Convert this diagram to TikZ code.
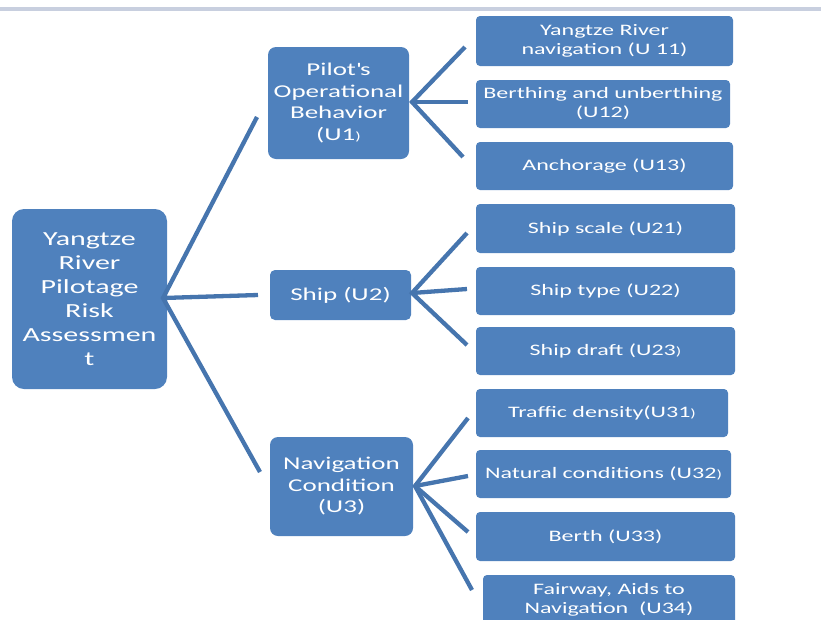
\documentclass[tikz,border=0pt]{standalone}
\usepackage{fontspec}
\setmainfont{Carlito}[FakeStretch=1.5]
\definecolor{boxblue}{HTML}{4F81BD}
\definecolor{linkblue}{HTML}{4675AE}
\definecolor{topband}{HTML}{C8CFDF}
\newcommand{\smp}{{\fontsize{12}{12}\selectfont )}}
\begin{document}
\begin{tikzpicture}[x=1pt,y=-1pt,
  box/.style={fill=boxblue, text=white, align=center, inner sep=0pt},
  rootbox/.style={box, rounded corners=12pt, font=\fontsize{20}{24}\selectfont},
  midbox/.style={box, rounded corners=8pt, font=\fontsize{18}{21.5}\selectfont},
  leafbox/.style={box, rounded corners=4pt, font=\fontsize{16}{19}\selectfont},
  link/.style={draw=linkblue, line width=4.3pt}]
\path[use as bounding box] (0,0) rectangle (821,619);
\clip (0,0) rectangle (821,619);
\fill[topband] (0,7) rectangle (821,11);

% root and level 1
\node[rootbox, minimum width=155pt, minimum height=180pt] (root) at (89.5,299)
  {Yangtze\\River\\Pilotage\\Risk\\Assessmen\\t};
\node[midbox, minimum width=141pt, minimum height=112pt] (u1) at (338.5,103)
  {Pilot\textquotesingle s\\Operational\\Behavior\\(U1\smp};
\node[midbox, rounded corners=5pt, minimum width=141pt, minimum height=50pt] (u2) at (340.5,295)
  {Ship (U2)};
\node[midbox, minimum width=143pt, minimum height=99pt] (u3) at (341.5,486.5)
  {Navigation\\Condition\\(U3)};

% leaves
\node[leafbox, minimum width=257pt, minimum height=50pt] (u11) at (604.5,41) {Yangtze River\\navigation (U 11)};
\node[leafbox, minimum width=254pt, minimum height=48pt] (u12) at (603,104) {Berthing and unberthing\\(U12)};
\node[leafbox, minimum width=257pt, minimum height=48pt] (u13) at (604.5,166) {Anchorage (U13)};
\node[leafbox, minimum width=259pt, minimum height=49pt] (u21) at (605.5,228.5) {Ship scale (U21)};
\node[leafbox, minimum width=259pt, minimum height=48pt] (u22) at (605.5,291) {Ship type (U22)};
\node[leafbox, minimum width=259pt, minimum height=48pt] (u23) at (605.5,351) {Ship draft (U23\smp};
\node[leafbox, minimum width=252pt, minimum height=48pt] (u31) at (602,413) {Traffic density(U31\smp};
\node[leafbox, minimum width=255pt, minimum height=48pt] (u32) at (603.5,474) {Natural conditions (U32\smp};
\node[leafbox, minimum width=259pt, minimum height=49pt] (u33) at (605.5,536.5) {Berth (U33)};
\node[leafbox, minimum width=252pt, minimum height=50pt] (u34) at (609,600) {Fairway, Aids to\\Navigation~ (U34)};

% hubs and free ends
\coordinate (h0) at (163,298);
\coordinate (e1) at (257,117);
\coordinate (e2) at (258,295);
\coordinate (e3) at (260,472);
\coordinate (h1) at (412,102);
\coordinate (e11) at (465,47);
\coordinate (e12) at (468,102);
\coordinate (e13) at (463,157);
\coordinate (h2) at (412,293);
\coordinate (e21) at (467,233);
\coordinate (e22) at (467,289);
\coordinate (e23) at (467,345);
\coordinate (h3) at (415,486);
\coordinate (e31) at (468,418);
\coordinate (e32) at (468,476);
\coordinate (e33) at (468,532);
\coordinate (e34) at (472,590);

\draw[link] (e1) -- (h0) -- (e3);
\draw[link] (h0) -- (e2);
\draw[link] (e11) -- (h1) -- (e13);
\draw[link] (h1) -- (e12);
\draw[link] (e21) -- (h2) -- (e23);
\draw[link] (h2) -- (e22);
\draw[link] (e31) -- (h3) -- (e34);
\draw[link] (h3) -- (e32);
\draw[link] (h3) -- (e33);
\end{tikzpicture}
\end{document}
